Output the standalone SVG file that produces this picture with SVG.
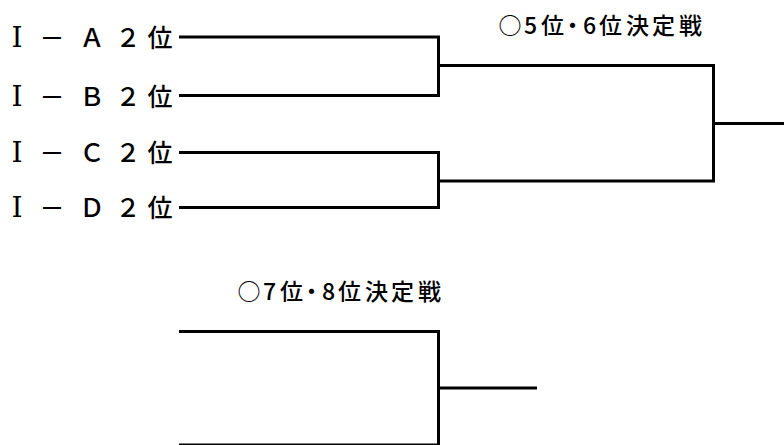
<svg xmlns="http://www.w3.org/2000/svg" width="784" height="445" viewBox="0 0 784 445">
<style>
.lbl{font-family:"Noto Sans CJK JP","Noto Sans",sans-serif;font-size:25px;font-weight:500;fill:#000;text-anchor:middle}
.rn{font-family:"DejaVu Serif","Liberation Serif","Noto Sans CJK JP",serif;font-size:28px;font-weight:normal}
.ttl{font-family:"Noto Sans CJK JP","Noto Sans",sans-serif;font-size:23px;font-weight:500;fill:#000;text-anchor:middle}
.ln{stroke:#000;stroke-width:3;fill:none;stroke-linecap:butt}
</style>
<rect width="784" height="445" fill="#fff"/>
<g id="label-a"><text class="lbl" x="17 52 92 128 160" y="47"><tspan class="rn">Ⅰ</tspan>－Ａ２位</text></g>
<g id="label-b"><text class="lbl" x="17 52 92 128 160" y="105.5"><tspan class="rn">Ⅰ</tspan>－Ｂ２位</text></g>
<g id="label-c"><text class="lbl" x="17 52 92 128 160" y="162"><tspan class="rn">Ⅰ</tspan>－Ｃ２位</text></g>
<g id="label-d"><text class="lbl" x="17 52 92 128 160" y="216.5"><tspan class="rn">Ⅰ</tspan>－Ｄ２位</text></g>
<g id="title-56"><text class="ttl" x="510 530.5 552.5 572.5 589.5 610.5 637.5 663.5 690.5" y="33.5">○5位・6位決定戦</text></g>
<g id="title-78"><text class="ttl" x="249 269.5 291.5 311.5 328.5 349.5 376.5 402.5 429.5" y="299.5">○7位・8位決定戦</text></g>
<g id="connectors">
<path class="ln" d="M179 37 H438.5 V95.5 H179"/>
<path class="ln" d="M438.5 65.5 H713.5 V181 H438.5"/>
<path class="ln" d="M179 152.5 H438.5 V207.5 H179"/>
<path class="ln" d="M713.5 123.5 H784"/>
<path class="ln" d="M179 331.5 H438.5 V445"/>
<path class="ln" d="M179 445 H438.5"/>
<path class="ln" d="M438.5 388 H537"/>
</g>
</svg>
